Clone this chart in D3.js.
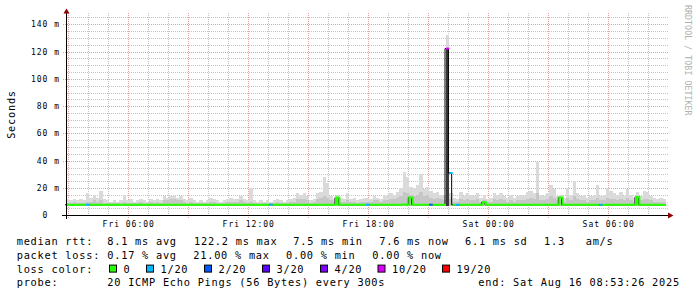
<!DOCTYPE html>
<html><head><meta charset="utf-8">
<script src="https://cdn.jsdelivr.net/npm/d3@7"></script>
<style>
html,body{margin:0;padding:0;background:#fff;}
svg{display:block;}
text{font-family:"DejaVu Sans Mono",monospace;white-space:pre;}
</style></head><body>
<svg id="c" width="697" height="297"></svg>
<script>
// ---------- data ----------
const startHour = 2 + 53/60 + 26/3600;   // Fri 02:53:26 (hours since Fri 00:00)
const spanHours = 30;
const binHours = 10/60;                  // 10-minute bins
const xTickHours = [6, 12, 18, 24, 30];
const xTickLabels = ["Fri 06:00", "Fri 12:00", "Fri 18:00", "Sat 00:00", "Sat 06:00"];
const yTicks = [0, 20, 40, 60, 80, 100, 120, 140];
const yTickLabels = ["0\u00a0\u00a0", "20 m", "40 m", "60 m", "80 m", "100 m", "120 m", "140 m"];

const smokeFloor = 7.0;
// upper edge of the light smoke (ms), one per 10-minute bin
const smokeHi = [
 12,11,12,11,12,11,16,13,15,13,
 18,12,11,10,11,10,11,15,11,12,
 10,11,12,11,10,12,11,12,11,14,
 13,14,15,13,14,12,11,13,11,10,
 11,10,11,13,12,11,10,11,12,13,
 12,12,14,12,11,20,11,10,11,10,
 11,10,11,12,11,10,11,12,13,16,
 15,16,14,11,12,16,17,28,24,14,
 12,15,13,12,16,12,13,11,12,13,
 13,12,14,13,12,15,14,16,15,17,
 20,32,28,21,20,22,30,19,21,18,
 16,17,15,14,132,16,13,12,17,14,
 16,15,14,16,13,15,12,13,16,15,
 16,14,13,15,13,14,15,14,17,18,
 16,39,15,14,16,22,19,14,15,13,
 20,15,25,16,14,15,13,14,15,22,
 14,15,20,18,16,15,17,14,19,15,
 13,17,14,18,17,14,13,12,13,12
];
// upper edge of the denser (darker) smoke band (ms)
const smokeMid = [
 9,9,10,9,9,9,10,10,11,10,
 11,9,9,9,9,9,9,10,9,9,
 9,9,10,9,9,10,9,10,9,11,
 11,12,12,11,11,10,9,10,9,9,
 9,9,9,10,10,9,9,9,10,10,
 10,10,11,10,9,10,9,9,9,9,
 9,9,9,10,9,9,9,10,10,12,
 12,12,11,9,10,12,13,14,13,11,
 10,11,10,10,11,10,10,9,10,10,
 10,10,11,11,10,11,11,12,12,13,
 14,17,16,15,14,15,17,14,15,13,
 12,13,12,11,122,12,10,10,12,11,
 12,11,11,12,10,11,10,10,12,11,
 12,11,10,11,10,11,11,11,12,13,
 12,16,11,11,12,14,13,11,11,10,
 13,11,14,12,11,11,10,11,11,13,
 11,11,13,12,12,11,12,11,13,11,
 10,12,11,12,12,11,10,10,10,10
];
// very dense core (dark) – only where it shows
const coreBins = [114];
const coreValues = [122];

// median rtt (ms)
const median = [
 7.7,7.7,7.6,7.7,7.7,7.8,7.8,7.7,7.7,7.7,
 7.7,7.6,7.7,7.7,7.7,7.7,7.6,7.7,7.7,7.7,
 7.7,7.7,7.7,7.6,7.7,7.7,7.7,7.7,7.7,7.7,
 7.8,7.8,7.7,7.7,7.7,7.7,7.6,7.7,7.7,7.7,
 7.7,7.7,7.7,7.7,7.7,7.6,7.6,7.7,7.7,7.7,
 7.7,7.7,7.7,7.7,7.7,7.7,7.7,7.6,7.6,7.7,
 7.7,7.8,7.7,7.7,7.7,7.7,7.7,7.7,7.7,7.8,
 7.8,7.7,7.7,7.7,7.7,7.7,7.8,7.8,7.7,7.7,
 7.7,13.0,7.7,7.7,7.7,7.7,7.7,7.7,7.7,7.7,
 7.8,7.7,7.7,7.7,7.7,7.7,7.7,7.7,7.7,7.8,
 7.8,7.9,7.8,13.0,7.8,7.8,7.8,7.7,7.7,7.8,
 7.7,7.7,7.7,7.7,122.2,31.0,7.7,7.7,7.7,7.7,
 7.7,7.7,7.7,7.7,7.7,9.5,7.7,7.7,7.7,7.7,
 7.7,7.7,7.7,7.7,7.7,7.7,7.7,7.7,7.7,7.7,
 7.7,7.8,7.7,7.7,7.7,7.7,7.7,7.7,13.0,7.7,
 7.7,7.7,7.7,7.7,7.7,7.7,7.7,7.7,7.7,7.7,
 7.7,7.6,7.7,7.7,7.7,7.7,7.7,7.7,7.7,7.7,
 7.7,13.5,7.7,7.7,7.7,7.7,7.7,7.7,7.6,7.6
];
// bins with packet loss (count out of 20)
const lossBins = [6, 61, 90, 109, 114, 115, 117, 160];
const lossValues = [1, 1, 1, 2, 10, 1, 1, 1];

const lossLevels = [0, 1, 2, 3, 4, 10, 19];
const lossLabels = ["0", "1/20", "2/20", "3/20", "4/20", "10/20", "19/20"];
const lossColors = ["#26ff00", "#00b8ff", "#0059ff", "#5e00ff", "#7e00ff", "#dd00ff", "#ff0000"];

const rttStats = ["8.1 ms avg", "122.2 ms max", "7.5 ms min", "7.6 ms now", "6.1 ms sd", "1.3   am/s"];
const lossStats = ["0.17 % avg", "21.00 % max", "0.00 % min", "0.00 % now"];
const probeText = "20 ICMP Echo Pings (56 Bytes) every 300s";
const endText = "end: Sat Aug 16 08:53:26 2025";

// ---------- drawing ----------
const svg = d3.select("#c");
const x = d3.scaleLinear().domain([startHour, startHour + spanHours]).range([66, 666]);
const y = d3.scaleLinear().domain([0, 140]).range([215.3, 24.3]);
const px = v => Math.round(v) + 0.5;

const nBins = smokeHi.length;
const binStart = i => startHour + i * binHours;
const lossOf = new Array(nBins).fill(0);
lossBins.forEach((b, k) => lossOf[b] = lossValues[k]);
const colorOf = l => lossColors[lossLevels.indexOf(l)];

// grid
const grid = svg.append("g").attr("fill", "none").attr("stroke-dasharray", "1,1").attr("shape-rendering", "crispEdges");
const hMinor = d3.range(5, 146, 5).filter(v => v % 20 !== 0);
grid.selectAll("line.hm").data(hMinor).join("line")
  .attr("x1", 67).attr("x2", 668).attr("y1", d => px(y(d))).attr("y2", d => px(y(d)))
  .attr("stroke", "#c4c4c4");
const vAll = d3.range(3, 33, 1);
grid.selectAll("line.vm").data(vAll.filter(h => h % 3 !== 0)).join("line")
  .attr("x1", d => px(x(d))).attr("x2", d => px(x(d))).attr("y1", 13).attr("y2", 215)
  .attr("stroke", "#c4c4c4");
grid.selectAll("line.hM").data(yTicks.filter(v => v > 0)).join("line")
  .attr("x1", 63).attr("x2", 668).attr("y1", d => px(y(d))).attr("y2", d => px(y(d)))
  .attr("stroke", "#e6a0a0");
grid.selectAll("line.vM").data(vAll.filter(h => h % 3 === 0)).join("line")
  .attr("x1", d => px(x(d))).attr("x2", d => px(x(d))).attr("y1", 13).attr("y2", 218)
  .attr("stroke", "#e6a0a0");

// smoke
const smoke = svg.append("g").attr("shape-rendering", "crispEdges");
const idx = d3.range(nBins);
smoke.selectAll("rect.hi").data(idx).join("rect")
  .attr("x", i => x(binStart(i))).attr("width", i => x(binStart(i + 1)) - x(binStart(i)))
  .attr("y", i => y(smokeHi[i])).attr("height", i => y(smokeFloor) - y(smokeHi[i]))
  .attr("fill", "#dadada");
smoke.selectAll("rect.mid").data(idx).join("rect")
  .attr("x", i => x(binStart(i))).attr("width", i => x(binStart(i + 1)) - x(binStart(i)))
  .attr("y", i => y(smokeMid[i])).attr("height", i => y(smokeFloor) - y(smokeMid[i]))
  .attr("fill", "#c6c6c6");
smoke.selectAll("rect.core").data(coreBins.map((b, k) => [b, coreValues[k]])).join("rect")
  .attr("x", d => x(binStart(d[0]))).attr("width", d => x(binStart(d[0] + 1)) - x(binStart(d[0])))
  .attr("y", d => y(d[1])).attr("height", d => y(smokeFloor) - y(d[1]))
  .attr("fill", "#3a3a3a");

// black median trace (step, shows as dark edges where the median jumps)
const stepLine = d3.line().x(d => x(d[0])).y(d => y(d[1])).curve(d3.curveStepAfter);
const allPts = idx.map(i => [binStart(i), median[i]]);
allPts.push([binStart(nBins), median[nBins - 1]]);
svg.append("path").attr("d", stepLine(allPts)).attr("transform", "translate(-1,0)")
  .attr("fill", "none").attr("stroke", "#000").attr("stroke-width", 1);

// median line coloured by loss (runs of equal loss)
const runs = [];
idx.forEach(i => {
  const last = runs[runs.length - 1];
  if (last && last.loss === lossOf[i]) last.bins.push(i);
  else runs.push({loss: lossOf[i], bins: [i]});
});
svg.append("g").selectAll("path").data(runs).join("path")
  .attr("d", r => {
    const pts = r.bins.map(i => [binStart(i), median[i]]);
    const lastBin = r.bins[r.bins.length - 1];
    pts.push([binStart(lastBin + 1), median[lastBin]]);
    return stepLine(pts);
  })
  .attr("fill", "none").attr("stroke", r => colorOf(r.loss)).attr("stroke-width", 2);

// axes (labels via d3 axes)
const axisFont = g => g.selectAll("text").attr("font-size", 8).style("letter-spacing", "0.98px")
  .attr("fill", "#000").attr("font-family", "DejaVu Sans Mono");
const xAxis = svg.append("g").attr("transform", "translate(0,215.5)")
  .call(d3.axisBottom(x).tickValues(xTickHours).tickFormat((d, i) => xTickLabels[i]).tickSize(0).tickPadding(6.3));
xAxis.select(".domain").remove();
axisFont(xAxis);
const yAxis = svg.append("g").attr("transform", "translate(66.5,0)")
  .call(d3.axisLeft(y).tickValues(yTicks).tickFormat((d, i) => yTickLabels[i]).tickSize(0).tickPadding(6.5));
yAxis.select(".domain").remove();
yAxis.selectAll(".tick").attr("transform", d => `translate(0,${px(y(d))})`);
axisFont(yAxis);

svg.append("line").attr("x1", 62).attr("x2", 669).attr("y1", 215.5).attr("y2", 215.5)
  .attr("stroke", "#000").attr("shape-rendering", "crispEdges");
svg.append("line").attr("x1", 66.5).attr("x2", 66.5).attr("y1", 219).attr("y2", 12)
  .attr("stroke", "#000").attr("shape-rendering", "crispEdges");
svg.append("path").attr("d", "M668,212.5L673.5,215.5L668,218.5Z").attr("fill", "#8b0000");
svg.append("path").attr("d", "M63.5,13.5L66.5,8.5L69.5,13.5Z").attr("fill", "#8b0000");

// y title
svg.append("text").attr("transform", "translate(14.8,114.5) rotate(-90)")
  .attr("text-anchor", "middle").attr("font-size", 10.3).style("letter-spacing", "0.75px")
  .attr("fill", "#000").text("Seconds");
// watermark
svg.append("text").attr("transform", "translate(685.3,5) rotate(90)")
  .attr("font-size", 8.2).style("letter-spacing", "0.1px").attr("fill", "#b0b0b0")
  .text("RRDTOOL / TOBI OETIKER");

// legend
const lg = svg.append("g").attr("font-size", 10.3).style("letter-spacing", "0.75px").attr("fill", "#000");
const rows = [245, 258.8, 272.6, 286.4];
const put = (xx, yy, t) => lg.append("text").attr("x", xx).attr("y", yy).text(t);
put(16.7, rows[0], "median rtt:");
[107.3, 194, 293.3, 379.3, 465, 544].forEach((xx, k) => put(xx, rows[0], rttStats[k]));
put(16.7, rows[1], "packet loss:");
[107.3, 193.3, 286, 372.3].forEach((xx, k) => put(xx, rows[1], lossStats[k]));
put(16.7, rows[2], "loss color:");
const swX = [109, 146, 204, 262, 320, 377.5, 442];
lossLabels.forEach((t, k) => {
  svg.append("rect").attr("x", swX[k] + 0.5).attr("y", rows[2] - 7.5).attr("width", 7).attr("height", 7)
    .attr("fill", lossColors[k]).attr("stroke", "#000").attr("stroke-width", 1);
  put(swX[k] + 14.5, rows[2], t);
});
put(16.7, rows[3], "probe:");
put(107.3, rows[3], probeText);
put(478.3, rows[3], endText);
</script>
</body></html>
